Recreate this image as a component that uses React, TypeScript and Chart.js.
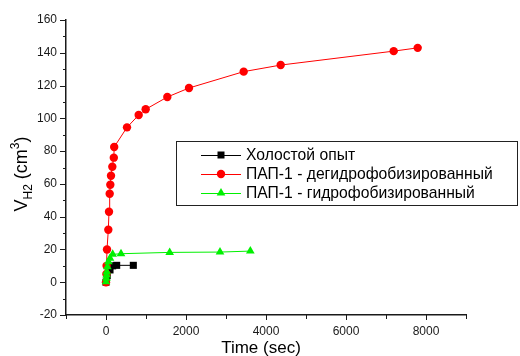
import React, { useEffect, useRef } from 'react';
import { Chart, registerables } from 'chart.js';

Chart.register(...registerables);

const FONT = "'Liberation Sans', Arial, sans-serif";

// Data (time in sec, volume in cm3)
const timeBlank = [0, 30, 100, 167, 267, 683];
const volBlank = [0, 4, 7.5, 10, 10.3, 10.3];

const timeDehyd = [0, 10, 15, 25, 58, 75, 92, 108, 125, 158, 195, 205, 525, 817, 992, 1533, 2075, 3442, 4367, 7192, 7792];
const volDehyd = [0, 5, 10, 20, 32, 43, 54, 59.5, 65, 70.5, 76, 82.5, 94.5, 102, 105.5, 113, 118.5, 128.5, 132.5, 141, 143];

const timeHyd = [0, 10, 15, 20, 35, 60, 100, 167, 375, 1592, 2850, 3608];
const volHyd = [0.3, 2.4, 4.4, 6.4, 9.5, 12.5, 14.6, 17, 17.4, 18.2, 18.4, 19];

const seriesNames = ['Холостой опыт', 'ПАП-1 - дегидрофобизированный', 'ПАП-1 - гидрофобизированный'];
const seriesColors = ['#000000', '#ff0000', '#00f000'];
const seriesMarkers = ['rect', 'circle', 'triangle'];

const xMin = -1000;
const xMax = 9000;
const xStep = 1000;
const xLabelStep = 2000;
const yMin = -20;
const yMax = 160;
const yStep = 10;
const yLabelStep = 20;

const xTitle = 'Time (sec)';

const toPoints = (xs: number[], ys: number[]) => xs.map((x, i) => ({ x, y: ys[i] }));

function drawMarker(ctx: CanvasRenderingContext2D, kind: string, x: number, y: number, color: string) {
  ctx.save();
  ctx.fillStyle = color;
  ctx.beginPath();
  if (kind === 'rect') {
    ctx.rect(x - 3.5, y - 3.5, 7, 7);
  } else if (kind === 'circle') {
    ctx.arc(x, y, 4.2, 0, Math.PI * 2);
  } else {
    const r = 5;
    ctx.moveTo(x, y - r);
    ctx.lineTo(x + r * Math.sin((2 * Math.PI) / 3), y - r * Math.cos((2 * Math.PI) / 3));
    ctx.lineTo(x + r * Math.sin((4 * Math.PI) / 3), y - r * Math.cos((4 * Math.PI) / 3));
    ctx.closePath();
  }
  ctx.fill();
  ctx.restore();
}

const decor = {
  id: 'decor',
  afterDraw(chart: any) {
    const ctx: CanvasRenderingContext2D = chart.ctx;
    const xs = chart.scales.x;
    const ys = chart.scales.y;
    const area = chart.chartArea;
    ctx.save();
    ctx.strokeStyle = '#1a1a1a';
    ctx.lineWidth = 1;
    // y ticks
    for (let v = yMin; v <= yMax; v += yStep) {
      const py = Math.round(ys.getPixelForValue(v)) + 0.5;
      const len = v % yLabelStep === 0 ? 6 : 3;
      ctx.beginPath();
      ctx.moveTo(area.left - len, py);
      ctx.lineTo(area.left, py);
      ctx.stroke();
    }
    // x ticks
    for (let v = xMin; v <= xMax; v += xStep) {
      const px = Math.round(xs.getPixelForValue(v)) + 0.5;
      const len = v % xLabelStep === 0 ? 5 : 4;
      ctx.beginPath();
      ctx.moveTo(px, area.bottom);
      ctx.lineTo(px, area.bottom + len);
      ctx.stroke();
    }

    // x title
    ctx.fillStyle = '#000';
    ctx.font = `17px ${FONT}`;
    ctx.textAlign = 'center';
    ctx.textBaseline = 'alphabetic';
    ctx.fillText(xTitle, 261, 353);

    // y title: V_H2 (cm^3)
    ctx.save();
    ctx.translate(27, 174);
    ctx.rotate(-Math.PI / 2);
    ctx.textAlign = 'left';
    const parts: [string, number, number][] = [
      ['V', 18, 0],
      ['H2', 12, 5],
      [' (cm', 18, 0],
      ['3', 12, -8],
      [')', 18, 0],
    ];
    let total = 0;
    for (const [t, s] of parts) {
      ctx.font = `${s}px ${FONT}`;
      total += ctx.measureText(t).width;
    }
    let cx = -total / 2;
    for (const [t, s, dy] of parts) {
      ctx.font = `${s}px ${FONT}`;
      ctx.fillText(t, cx, dy);
      cx += ctx.measureText(t).width;
    }
    ctx.restore();

    // legend
    ctx.fillStyle = '#ffffff';
    ctx.fillRect(176, 141, 342, 65);
    ctx.strokeStyle = '#222';
    ctx.lineWidth = 1;
    ctx.strokeRect(176.5, 141.5, 341, 64);
    const rows = [155, 174, 193];
    ctx.font = `15.7px ${FONT}`;
    ctx.textAlign = 'left';
    ctx.textBaseline = 'middle';
    seriesNames.forEach((name, i) => {
      const ry = rows[i];
      ctx.strokeStyle = seriesColors[i];
      ctx.lineWidth = 1;
      ctx.beginPath();
      ctx.moveTo(201, ry + 0.5);
      ctx.lineTo(241, ry + 0.5);
      ctx.stroke();
      drawMarker(ctx, seriesMarkers[i], 221, ry, seriesColors[i]);
      ctx.fillStyle = '#000';
      ctx.fillText(name, 246, ry + 1);
    });
    ctx.restore();
  },
};

export default function App() {
  const ref = useRef<HTMLCanvasElement>(null);
  useEffect(() => {
    const canvas = ref.current as HTMLCanvasElement;
    const tickFont = { family: FONT, size: 12 };
    const chart = new Chart(canvas, {
      type: 'scatter',
      data: {
        datasets: [
          {
            label: seriesNames[0],
            data: toPoints(timeBlank, volBlank),
            showLine: true,
            borderColor: seriesColors[0],
            backgroundColor: seriesColors[0],
            borderWidth: 1,
            pointStyle: 'rect',
            pointRadius: 5,
            pointBorderWidth: 0,
            order: 2,
          },
          {
            label: seriesNames[1],
            data: toPoints(timeDehyd, volDehyd),
            showLine: true,
            borderColor: seriesColors[1],
            backgroundColor: seriesColors[1],
            borderWidth: 1,
            pointStyle: 'circle',
            pointRadius: 4.2,
            pointBorderWidth: 0,
            order: 1,
          },
          {
            label: seriesNames[2],
            data: toPoints(timeHyd, volHyd),
            showLine: true,
            borderColor: seriesColors[2],
            backgroundColor: seriesColors[2],
            borderWidth: 1,
            pointStyle: 'triangle',
            pointRadius: 5,
            pointBorderWidth: 0,
            order: 0,
          },
        ],
      },
      options: {
        responsive: false,
        animation: false,
        devicePixelRatio: 1,
        layout: { padding: { left: 0, right: 54, top: 20, bottom: 0 } },
        plugins: {
          legend: { display: false },
          tooltip: { enabled: false },
        },
        scales: {
          x: {
            type: 'linear',
            position: 'bottom',
            min: xMin,
            max: xMax,
            afterFit: (s: any) => {
              s.height = 41;
            },
            grid: { display: false, drawTicks: false },
            border: { display: true, color: '#1a1a1a', width: 1.5 },
            ticks: {
              stepSize: xStep,
              autoSkip: false,
              maxRotation: 0,
              padding: 9,
              color: '#1a1a1a',
              font: tickFont,
              callback: (v: any) => (Number(v) % xLabelStep === 0 ? String(v) : ''),
            },
          },
          y: {
            type: 'linear',
            position: 'left',
            min: yMin,
            max: yMax,
            afterFit: (s: any) => {
              s.width = 66;
            },
            grid: { display: false, drawTicks: false },
            border: { display: true, color: '#1a1a1a', width: 1.5 },
            ticks: {
              stepSize: yStep,
              autoSkip: false,
              padding: 9,
              color: '#1a1a1a',
              font: tickFont,
              callback: (v: any) => (Number(v) % yLabelStep === 0 ? String(v) : ''),
            },
          },
        },
      },
      plugins: [decor],
    } as any);
    return () => chart.destroy();
  }, []);
  return (
    <canvas
      ref={ref}
      width={520}
      height={356}
      style={{ position: 'absolute', left: 0, top: 0, width: 520, height: 356 }}
    />
  );
}
